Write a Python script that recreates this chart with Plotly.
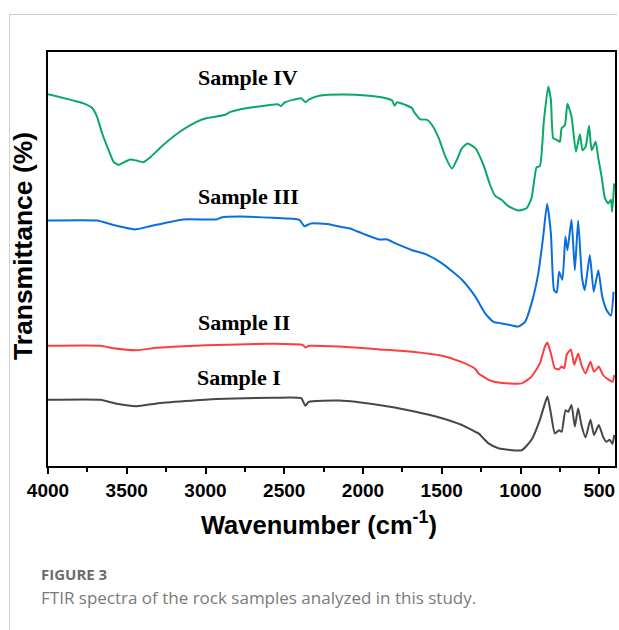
import plotly.graph_objects as go

# ---------------- data (wavenumber in cm-1, transmittance in arbitrary % units, offset per sample) --------------
wn_iv = [4000, 3774, 3721, 3689, 3657, 3615, 3584, 3552, 3521, 3479, 3436, 3394, 3352, 3268, 3163, 3057,
         2994, 2931, 2867, 2846, 2783, 2720, 2541, 2520, 2499, 2393, 2366, 2341, 2278, 2130, 1962, 1867,
         1815, 1800, 1783, 1730, 1688, 1677, 1635, 1593, 1562, 1519, 1477, 1435, 1404, 1372, 1336, 1287,
         1235, 1193, 1161, 1120, 1077, 1014, 961, 930, 898, 877, 851, 824, 807, 792, 771, 750, 739, 718,
         702, 676, 648, 623, 606, 586, 565, 548, 523, 506, 485, 464, 443, 426, 418, 405]
t_iv = [93.2, 90.9, 89.8, 87.6, 83.5, 79.2, 76.3, 75.5, 76.1, 76.9, 76.6, 76.2, 77.4, 80.5, 83.8, 86.3,
        87.2, 87.6, 88.2, 88.7, 89.4, 89.8, 90.7, 90.2, 91.1, 92.2, 91.2, 91.9, 92.8, 93.1, 92.8, 92.3,
        91.6, 90.3, 91.2, 90.5, 89.7, 88.8, 86.9, 86.8, 85.5, 82.2, 77.6, 74.6, 76.8, 79.7, 80.9, 79.7,
        75.5, 70.5, 67.8, 66.8, 65.2, 64.1, 64.7, 67.2, 74.9, 75.2, 86.8, 95.1, 91.8, 82.2, 81.8, 81.3,
        84.7, 85.5, 90.8, 87.6, 78.8, 83.2, 79.2, 80.1, 85.3, 79.2, 81.3, 77.2, 72.6, 67.2, 65.9, 66.8,
        63.8, 70.9]

wn_iii = [4000, 3689, 3584, 3447, 3352, 3142, 2931, 2899, 2783, 2573, 2404, 2373, 2330, 2215, 2151, 2088,
          2004, 1898, 1846, 1793, 1688, 1603, 1498, 1372, 1287, 1224, 1172, 1120, 1066, 1014, 971, 930,
          887, 856, 831, 807, 787, 770, 755, 734, 715, 702, 676, 655, 634, 609, 592, 560, 535, 506, 481,
          453, 426, 409]
t_iii = [61.6, 61.6, 60.5, 59.4, 60.2, 61.9, 61.9, 62.4, 62.6, 62.3, 61.8, 60.2, 60.9, 60.7, 60.1, 59.7,
         58.4, 56.9, 56.9, 55.9, 54.2, 53.2, 50.9, 46.8, 42.6, 38.4, 36.3, 35.9, 35.5, 35.1, 36.3, 40.9,
         48.4, 57.6, 65.8, 58.4, 44.2, 43.6, 48.8, 46.8, 57.6, 54.2, 61.8, 49.2, 61.6, 47.2, 44.2, 53.0,
         43.8, 49.2, 42.6, 39.2, 37.8, 43.8]

wn_ii = [4000, 3668, 3584, 3436, 3310, 2931, 2573, 2383, 2366, 2341, 2151, 1898, 1688, 1498, 1372, 1287,
         1266, 1203, 1140, 993, 930, 877, 845, 829, 807, 782, 756, 739, 722, 707, 680, 659, 634, 613, 587,
         556, 533, 503, 476, 443, 416, 405]
t_ii = [30.3, 30.3, 29.7, 29.2, 29.8, 30.5, 30.8, 30.5, 29.9, 30.3, 30.1, 29.4, 28.8, 27.8, 26.2, 24.5,
        23.4, 21.8, 21.1, 20.9, 22.6, 25.9, 30.1, 31.1, 28.4, 24.7, 24.4, 25.1, 24.7, 28.0, 29.4, 25.5,
        28.4, 25.5, 23.4, 26.3, 23.8, 25.1, 23.0, 21.9, 21.3, 23.0]

wn_i = [4000, 3668, 3563, 3436, 3310, 2931, 2573, 2393, 2366, 2345, 2151, 1898, 1688, 1498, 1372, 1287,
        1266, 1203, 1140, 993, 930, 877, 845, 829, 807, 782, 756, 739, 714, 697, 676, 655, 634, 613, 587,
        556, 533, 503, 476, 455, 434, 416, 405]
t_i = [16.8, 16.8, 15.8, 15.2, 15.9, 17.0, 17.3, 17.2, 15.3, 16.3, 16.6, 15.5, 14.0, 12.2, 10.5, 8.8,
       8.4, 5.9, 4.7, 4.2, 6.8, 11.8, 15.9, 17.6, 13.4, 8.4, 9.2, 8.8, 14.2, 13.8, 15.5, 10.1, 14.7, 10.5,
       7.4, 11.8, 8.0, 10.5, 7.6, 6.3, 6.8, 5.8, 8.0]

sample_names = ["Sample I", "Sample II", "Sample III", "Sample IV"]
colors = ["#474747", "#ff3d3d", "#0a6fdc", "#0aa866"]
label_wn = [3068, 3061, 3061, 3061]
label_t = [22.5, 36.2, 67.6, 97.5]

x_ticks = [4000, 3500, 3000, 2500, 2000, 1500, 1000, 500]
x_minor = [3750, 3250, 2750, 2250, 1750, 1250, 750]

# ---------------- figure ----------------
fig = go.Figure()
series = [(wn_i, t_i), (wn_ii, t_ii), (wn_iii, t_iii), (wn_iv, t_iv)]
for (wn, t), name, c in zip(series, sample_names, colors):
    fig.add_trace(go.Scatter(x=wn, y=t, mode="lines", name=name,
                             line=dict(color=c, width=2, shape="spline", smoothing=0.5),
                             showlegend=False, hoverinfo="skip"))

for name, xw, yt in zip(sample_names, label_wn, label_t):
    fig.add_annotation(x=xw, y=yt, xref="x", yref="y", text="<b>" + name + "</b>",
                       showarrow=False, xanchor="left", yanchor="middle",
                       font=dict(family="Liberation Serif", size=22, color="black"))

L, R, T, B = 48, 2, 52, 164
W, H = 619, 630
pw = W - L - R
ph = H - T - B

def px(xp):
    return (xp - L) / pw

def py(yp):
    return (H - B - yp) / ph

fig.update_layout(
    width=W, height=H,
    margin=dict(l=L, r=R, t=T, b=B),
    paper_bgcolor="white", plot_bgcolor="white",
    xaxis=dict(range=[4000, 400], tickvals=x_ticks, ticktext=[f"<b>{v}</b>" for v in x_ticks],
               ticks="outside", ticklen=6, tickwidth=2, tickcolor="black",
               showline=True, linewidth=2, linecolor="black", mirror=True,
               showgrid=False, zeroline=False,
               tickfont=dict(family="Liberation Sans", size=19, color="black"),
               minor=dict(tickvals=x_minor, ticks="outside", ticklen=4, tickwidth=1.5, tickcolor="black")),
    yaxis=dict(range=[0.25, 103.75], showticklabels=False, ticks="",
               showline=True, linewidth=2, linecolor="black", mirror=True,
               showgrid=False, zeroline=False),
)

# axis titles
fig.add_annotation(x=px(320), y=py(523), xref="paper", yref="paper",
                   text="<b>Wavenumber (cm<sup>-1</sup>)</b>", showarrow=False,
                   xanchor="center", yanchor="middle",
                   font=dict(family="Liberation Sans", size=25.5, color="black"))
fig.add_annotation(x=px(23), y=py(246), xref="paper", yref="paper",
                   text="<b>Transmittance (%)</b>", showarrow=False, textangle=-90,
                   xanchor="center", yanchor="middle",
                   font=dict(family="Liberation Sans", size=26.5, color="black"))

# caption
fig.add_annotation(x=px(39), y=py(574), xref="paper", yref="paper",
                   text="<b>FIGURE 3</b>", showarrow=False, xanchor="left", yanchor="middle",
                   font=dict(family="Open Sans", size=15, color="#6b6b6b"))
fig.add_annotation(x=px(39), y=py(597), xref="paper", yref="paper",
                   text="FTIR spectra of the rock samples analyzed in this study.", showarrow=False,
                   xanchor="left", yanchor="middle",
                   font=dict(family="Open Sans", size=17, color="#7a7a7a"))

# page frame lines
fig.add_shape(type="line", xref="paper", yref="paper", x0=px(9.5), x1=px(9.5), y0=py(14.5), y1=py(630),
              line=dict(color="#cccccc", width=1))
fig.add_shape(type="line", xref="paper", yref="paper", x0=px(9.5), x1=px(619), y0=py(14.5), y1=py(14.5),
              line=dict(color="#cccccc", width=1))

fig.write_html("out.html", config={"displayModeBar": False},
               post_script="document.body.style.margin='0';document.body.style.overflow='hidden';")
